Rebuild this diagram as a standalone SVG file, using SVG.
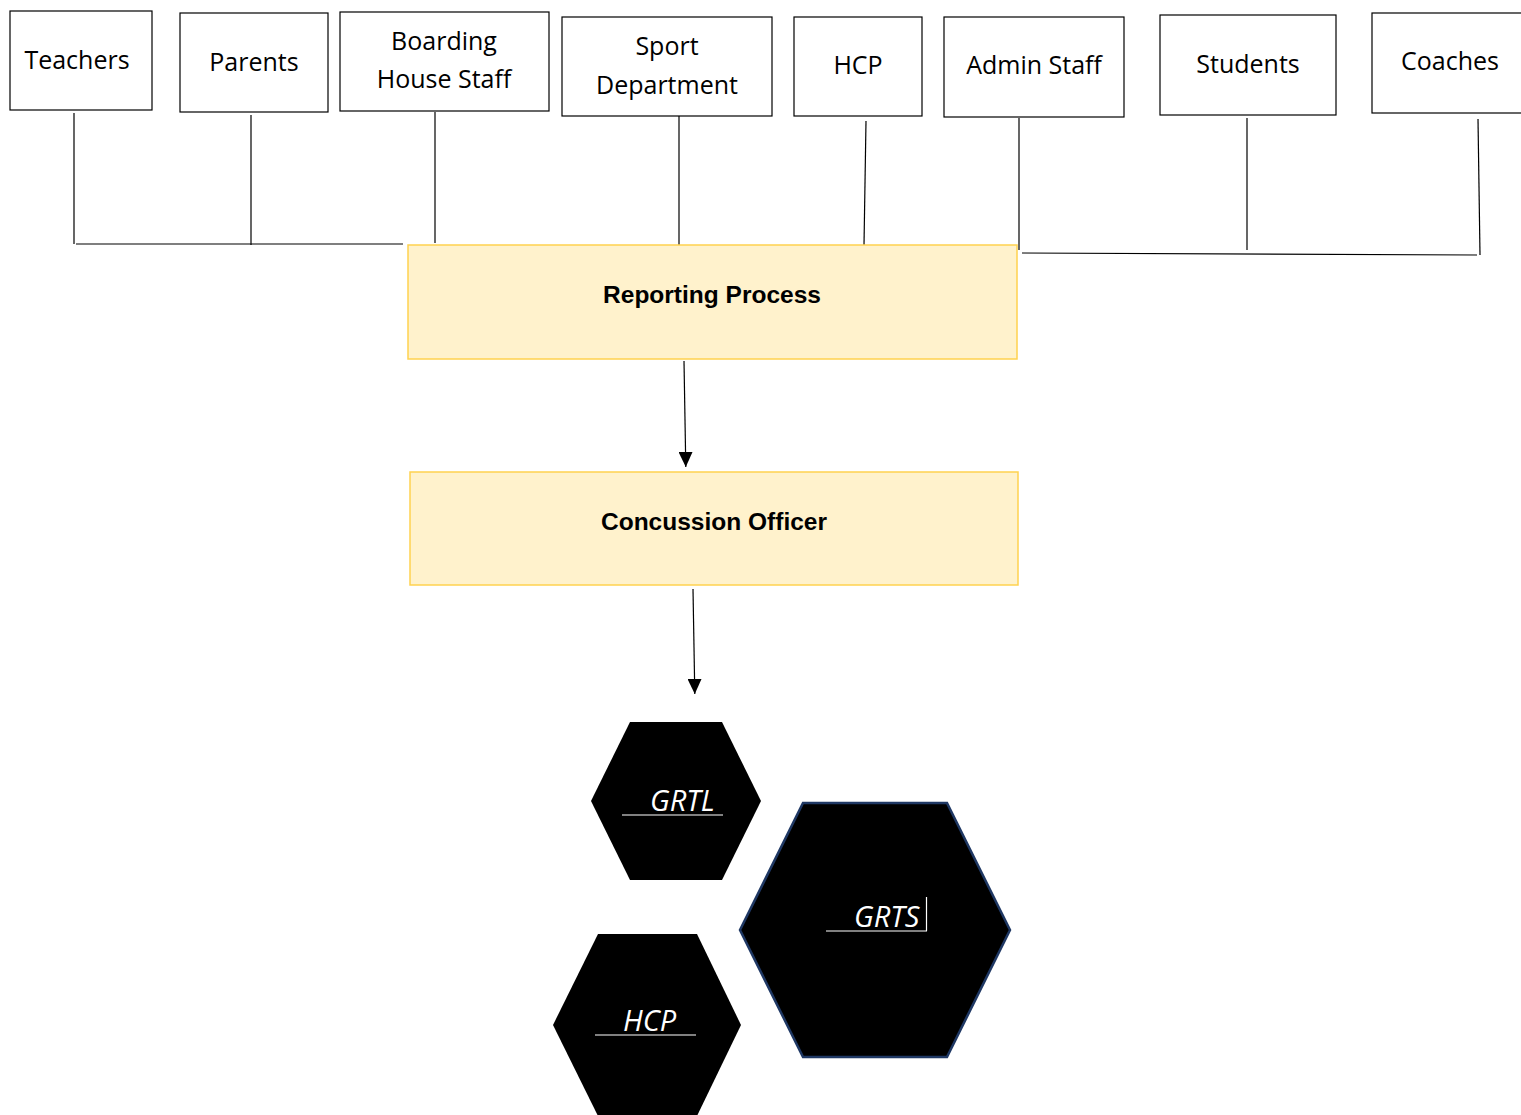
<svg xmlns="http://www.w3.org/2000/svg" width="1521" height="1115" viewBox="0 0 1521 1115">
<defs>
<style>
.box{fill:#fff;stroke:#000;stroke-width:1.2}
.proc{fill:#FFF2CC;stroke:#FFD24F;stroke-width:1.5}
.lbl{font-family:"Open Sans","Liberation Sans",sans-serif;font-size:25px;fill:#000;text-anchor:middle}
.bold{font-family:"Liberation Sans",Arial,sans-serif;font-weight:bold;font-size:24.5px;fill:#000;text-anchor:middle}
.hex{fill:#000}
.hexlbl{font-family:"Open Sans","Liberation Sans",sans-serif;font-style:italic;font-size:29px;fill:#fff}
.ul{stroke:#fff;stroke-width:1.2}
.conn{stroke:#000;stroke-width:1.2;fill:none}
</style>
<marker id="arr" viewBox="0 0 15 14" refX="15" refY="7" markerWidth="15" markerHeight="14" markerUnits="userSpaceOnUse" orient="auto">
<path d="M0,0 L15,7 L0,14 Z" fill="#000"/>
</marker>
</defs>
<rect width="1521" height="1115" fill="#fff"/>

<g id="connectors">
<line class="conn" x1="74" y1="113" x2="74" y2="244"/>
<line class="conn" x1="76" y1="244" x2="403" y2="244"/>
<line class="conn" x1="251" y1="115" x2="251" y2="245"/>
<line class="conn" x1="435" y1="112" x2="435" y2="243"/>
<line class="conn" x1="679" y1="116" x2="679" y2="245"/>
<line class="conn" x1="866" y1="121" x2="864" y2="245"/>
<line class="conn" x1="1019" y1="118" x2="1019" y2="250"/>
<line class="conn" x1="1022" y1="253" x2="1477" y2="255"/>
<line class="conn" x1="1247" y1="118" x2="1247" y2="250"/>
<line class="conn" x1="1478" y1="119" x2="1480" y2="255"/>
<path class="conn" d="M684,361 L685.8,467" marker-end="url(#arr)"/>
<path class="conn" d="M693,589 L694.8,694" marker-end="url(#arr)"/>
</g>

<g id="teachers"><rect class="box" x="10" y="11" width="142" height="99"/><text class="lbl" x="77" y="69">Teachers</text></g>
<g id="parents"><rect class="box" x="180" y="13" width="148" height="99"/><text class="lbl" x="254" y="71">Parents</text></g>
<g id="boarding"><rect class="box" x="340" y="12" width="209" height="99"/><text class="lbl" x="444" y="50">Boarding</text><text class="lbl" x="444" y="88">House Staff</text></g>
<g id="sport"><rect class="box" x="562" y="17" width="210" height="99"/><text class="lbl" x="667" y="55">Sport</text><text class="lbl" x="667" y="94">Department</text></g>
<g id="hcp-top"><rect class="box" x="794" y="17" width="128" height="99"/><text class="lbl" x="858" y="74">HCP</text></g>
<g id="admin"><rect class="box" x="944" y="17" width="180" height="100"/><text class="lbl" x="1034" y="74">Admin Staff</text></g>
<g id="students"><rect class="box" x="1160" y="15" width="176" height="100"/><text class="lbl" x="1248" y="73">Students</text></g>
<g id="coaches"><rect class="box" x="1372" y="13" width="152" height="100"/><text class="lbl" x="1450" y="70">Coaches</text></g>

<g id="reporting"><rect class="proc" x="408" y="245" width="609" height="114"/><text class="bold" x="712" y="303">Reporting Process</text></g>
<g id="officer"><rect class="proc" x="410" y="472" width="608" height="113"/><text class="bold" x="714" y="530">Concussion Officer</text></g>

<g id="grtl"><polygon class="hex" points="630,722 722,722 761,801 722,880 630,880 591,801"/><text class="hexlbl" x="650" y="811">GRTL</text><line class="ul" x1="622" y1="815" x2="723" y2="815"/></g>
<g id="grts"><polygon class="hex" points="803,803 947,803 1010,930 947,1057 803,1057 740,930" stroke="#1F3864" stroke-width="2.5"/><text class="hexlbl" x="854" y="927">GRTS</text><line class="ul" x1="826" y1="931" x2="927" y2="931"/><line class="ul" x1="926.5" y1="897" x2="926.5" y2="931"/></g>
<g id="hcp"><polygon class="hex" points="598,934 697,934 741,1025 697,1116 598,1116 553,1025"/><text class="hexlbl" x="623" y="1031">HCP</text><line class="ul" x1="595" y1="1035" x2="696" y2="1035"/></g>
</svg>
